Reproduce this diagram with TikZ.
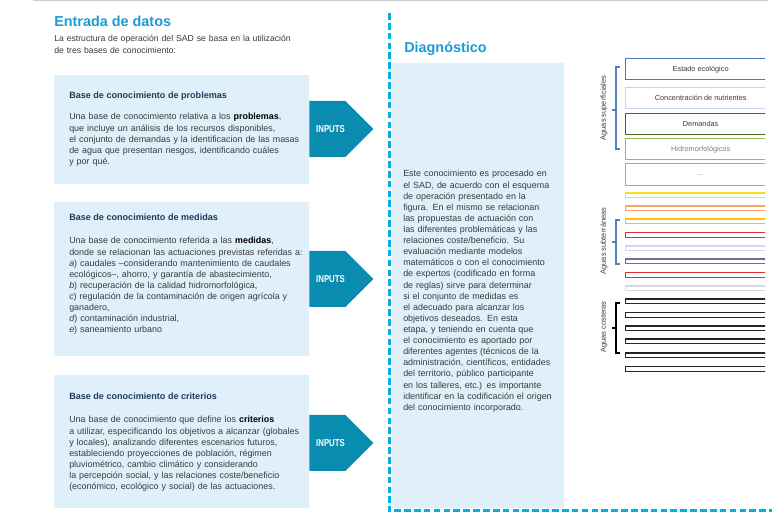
\documentclass[tikz,border=0pt]{standalone}
\usepackage{fontspec}
\setmainfont{Liberation Sans}
\definecolor{sdtitle}{HTML}{1A9BD7}
\definecolor{sddash}{HTML}{00B2E3}
\definecolor{sdfill}{HTML}{DFF0FA}
\definecolor{sdarrow}{HTML}{0A8CB0}
\definecolor{sdnavy}{HTML}{1F3A5A}
\definecolor{sdtext}{HTML}{3A3A3A}
\definecolor{sdbrk}{HTML}{4F81BD}
\definecolor{bestado}{HTML}{4A7EBB}
\definecolor{bnutri}{HTML}{C5D5EA}
\definecolor{bdemanda}{HTML}{4F6228}
\definecolor{bhidro}{HTML}{9BBB59}
\definecolor{byellow}{HTML}{F2E21A}
\definecolor{bpeach}{HTML}{F7A46C}
\definecolor{bamber}{HTML}{FFC000}
\definecolor{bred}{HTML}{E53030}
\definecolor{blav}{HTML}{D9D2E9}
\definecolor{bpurple}{HTML}{8064A2}
\definecolor{bgrey}{HTML}{D9D9D9}
\definecolor{bdark}{HTML}{262626}
\usepackage{tikz}
\usetikzlibrary{shapes.symbols}

\begin{document}
\begin{tikzpicture}[
    x=0.75pt, y=-0.75pt,
    kbox/.style={fill=sdfill, anchor=north west, minimum width=191.25pt, inner sep=0pt},
    khead/.style={anchor=base west, inner sep=0pt, text=sdnavy,
                  font=\fontsize{6.8}{8.3}\selectfont\bfseries},
    ktxt/.style={anchor=base west, inner sep=0pt, align=left, text width=7cm, text=sdtext,
                 font=\fontsize{6.7}{8.33}\selectfont},
    bigttl/.style={anchor=base west, inner sep=0pt, text=sdtitle,
                   font=\fontsize{10.8}{12}\selectfont\bfseries},
    inarrow/.style={signal, signal to=east, signal from=nowhere, signal pointer angle=90,
                    anchor=west, fill=sdarrow, minimum width=48pt, minimum height=42pt, inner sep=0pt},
    intext/.style={text=white, inner sep=0pt, font=\fontsize{7.5}{8}\selectfont\bfseries},
    bar/.style={draw, fill=white, anchor=north west, minimum width=112.5pt, line width=1pt,
                inner sep=0pt, text=sdtext, font=\fontsize{5.5}{6}\selectfont},
    thinbar/.style={draw, fill=white, anchor=north west, minimum width=112.5pt,
                    minimum height=3.4pt, line width=1pt, inner sep=0pt},
    brk/.style={line width=0.8pt},
    aglbl/.style={rotate=90, inner sep=0pt, text=sdtext, font=\fontsize{5.6}{6}\selectfont}
  ]
    \useasboundingbox (0,0) rectangle (772,516);
    \draw[gray!40, line width=0.75pt] (33,1) -- (768,1);

    \node[bigttl] (ent) at (54,27) {Entrada de datos};
    \node[ktxt, font=\fontsize{6.5}{8.6}\selectfont] (entsub) at (54,42)
      {La estructura de operación del SAD se basa en la utilización\\
      de tres bases de conocimiento:};

    \node[kbox, minimum height=81.75pt] (kp) at (54,75) {};
    \node[khead] (kph) at (69,99) {Base de conocimiento de problemas};
    \node[ktxt] (kpt) at (69,120) {Una base de conocimiento relativa a los \textbf{\color{black}problemas},\\
      que incluye un análisis de los recursos disponibles,\\
      el conjunto de demandas y la identificacion de las masas\\
      de agua que presentan riesgos, identificando cuáles\\
      y por qué.};

    \node[kbox, minimum height=115.5pt] (km) at (54,202) {};
    \node[khead] (kmh) at (69,221) {Base de conocimiento de medidas};
    \node[ktxt] (kmt) at (69,244) {Una base de conocimiento referida a las \textbf{\color{black}medidas},\\
      donde se relacionan las actuaciones previstas referidas a:\\
      \textit{a}) caudales –considerando mantenimiento de caudales\\
      ecológicos–, ahorro, y garantía de abastecimiento,\\
      \textit{b}) recuperación de la calidad hidromorfológica,\\
      \textit{c}) regulación de la contaminación de origen agrícola y\\
      ganadero,\\
      \textit{d}) contaminación industrial,\\
      \textit{e}) saneamiento urbano};

    \node[kbox, minimum height=99.75pt] (kc) at (54,375) {};
    \node[khead] (kch) at (69,400) {Base de conocimiento de criterios};
    \node[ktxt] (kct) at (69,423) {Una base de conocimiento que define los \textbf{\color{black}criterios}\\
      a utilizar, especificando los objetivos a alcanzar (globales\\
      y locales), analizando diferentes escenarios futuros,\\
      estableciendo proyecciones de población, régimen\\
      pluviométrico, cambio climático y considerando\\
      la percepción social, y las relaciones coste/beneficio\\
      (económico, ecológico y social) de las actuaciones.};

    \node[inarrow] (in1) at (309,129) {};
    \node[inarrow] (in2) at (309,279) {};
    \node[inarrow] (in3) at (309,443) {};
    \node[intext] (it1) at (330.5,129) {\scalebox{0.78}[1]{INPUTS}};
    \node[intext] (it2) at (330.5,279) {\scalebox{0.78}[1]{INPUTS}};
    \node[intext] (it3) at (330.5,443) {\scalebox{0.78}[1]{INPUTS}};

    \node[kbox, minimum width=129pt, minimum height=333.75pt] (dg) at (392,63) {};
    \node[bigttl] (dgt) at (404,53) {Diagnóstico};
    \node[ktxt] (dgx) at (403,177) {Este conocimiento es procesado en\\
      el SAD, de acuerdo con el esquema\\
      de operación presentado en la\\
      figura. En el mismo se relacionan\\
      las propuestas de actuación con\\
      las diferentes problemáticas y las\\
      relaciones coste/beneficio. Su\\
      evaluación mediante modelos\\
      matemáticos o con el conocimiento\\
      de expertos (codificado en forma\\
      de reglas) sirve para determinar\\
      si el conjunto de medidas es\\
      el adecuado para alcanzar los\\
      objetivos deseados. En esta\\
      etapa, y teniendo en cuenta que\\
      el conocimiento es aportado por\\
      diferentes agentes (técnicos de la\\
      administración, científicos, entidades\\
      del territorio, público participante\\
      en los talleres, etc.) es importante\\
      identificar en la codificación el origen\\
      del conocimiento incorporado.};

    \draw[sddash, line width=2.25pt, dash pattern=on 5pt off 2.4pt] (389,13) -- (389,511) -- (772,511);

    \begin{scope}
      \clip (0,0) rectangle (765,516);
      \node[bar, draw=bestado, minimum height=15.75pt] (b1) at (625,58) {Estado ecológico};
      \node[bar, draw=bnutri, minimum height=15.75pt] (b2) at (625,87) {Concentración de nutrientes};
      \node[bar, draw=bdemanda, minimum height=15.75pt] (b3) at (625,113) {Demandas};
      \node[bar, draw=bhidro, minimum height=15.75pt, text=gray] (b4) at (625,138) {Hidromorfológicos};
      \node[bar, draw=bhidro, minimum height=16.5pt, text=gray] (b5) at (625,163) {...};
      \node[thinbar, draw=byellow] (s1) at (625,192.5) {};
      \node[thinbar, draw=bpeach] (s2) at (625,205.5) {};
      \node[thinbar, draw=bamber] (s3) at (625,218.5) {};
      \node[thinbar, draw=bred] (s4) at (625,232) {};
      \node[thinbar, draw=blav] (s5) at (625,245.5) {};
      \node[thinbar, draw=bpurple] (s6) at (625,258.5) {};
      \node[thinbar, draw=bred] (s7) at (625,272) {};
      \node[thinbar, draw=bgrey] (s8) at (625,285.5) {};
      \node[thinbar, draw=bdark] (c1) at (625,298.5) {};
      \node[thinbar, draw=bdark] (c2) at (625,312) {};
      \node[thinbar, draw=bdark] (c3) at (625,325.5) {};
      \node[thinbar, draw=bdark] (c4) at (625,338.5) {};
      \node[thinbar, draw=bdark] (c5) at (625,352.5) {};
      \node[thinbar, draw=bdark] (c6) at (625,366) {};
    \end{scope}

    \draw[brk, sdbrk] (620,67) -- (616,67) -- (616,149) -- (620,149) (616,110) -- (612,110);
    \draw[brk, sdbrk] (620,220) -- (616,220) -- (616,264) -- (620,264) (616,242) -- (612,242);
    \draw[brk, black] (620,303) -- (616,303) -- (616,353) -- (620,353) (616,328) -- (612,328);
    \node[aglbl] (ag1) at (604,108) {Aguas superficiales};
    \node[aglbl] (ag2) at (604,241) {Aguas subterráneas};
    \node[aglbl] (ag3) at (604,327) {Aguas costeras};
  \end{tikzpicture}
\end{document}
